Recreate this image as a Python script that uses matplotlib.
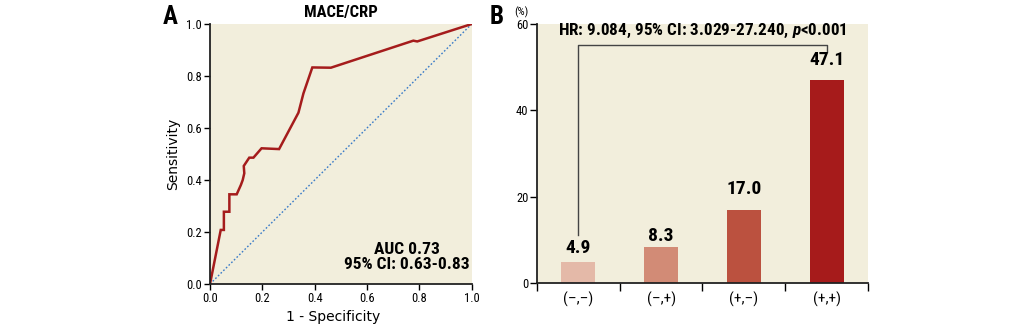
import matplotlib
matplotlib.use("Agg")
import matplotlib.pyplot as plt
from matplotlib import font_manager

# ---- data -------------------------------------------------------------
# ROC curve (panel A)
fpr = [0.0, 0.041, 0.053, 0.053, 0.074, 0.074, 0.102, 0.118, 0.125, 0.131,
       0.129, 0.150, 0.166, 0.197, 0.264, 0.338, 0.357, 0.391, 0.462, 0.777,
       0.792, 1.0]
tpr = [0.0, 0.208, 0.208, 0.278, 0.278, 0.345, 0.345, 0.381, 0.400, 0.426,
       0.454, 0.486, 0.486, 0.522, 0.519, 0.659, 0.733, 0.833, 0.832, 0.936,
       0.933, 1.0]
auc_text = "AUC 0.73\n95% CI: 0.63-0.83"

# event rates (panel B)
groups = ["(\u2013,\u2013)", "(\u2013,+)", "(+,\u2013)", "(+,+)"]
rates = [4.9, 8.3, 17.0, 47.1]
hr_text = "HR: 9.084, 95% CI: 3.029-27.240, $\\mathit{p}$<0.001"

# ---- style ------------------------------------------------------------
names = {f.name for f in font_manager.fontManager.ttflist}
narrow = "DejaVu Sans"
for cand in ["Roboto Condensed", "Archivo Narrow", "PT Sans Narrow",
             "Liberation Sans Narrow", "Open Sans Condensed"]:
    if cand in names:
        narrow = cand
        break
plt.rcParams["font.family"] = [narrow, "DejaVu Sans"]
plt.rcParams["mathtext.fontset"] = "custom"
plt.rcParams["mathtext.it"] = narrow + ":italic:bold"
plt.rcParams["mathtext.rm"] = narrow + ":bold"

bg = "#f2eedc"
bar_colors = ["#e4b9a8", "#d28b76", "#bb513f", "#a61b1b"]
roc_color = "#a51c1c"

fig = plt.figure(figsize=(10.33, 3.26), dpi=100)

# ---- panel A: ROC -----------------------------------------------------
ax = fig.add_axes([0.2033, 0.1288, 0.2533, 0.7975])
ax.set_facecolor(bg)
ax.plot([0, 1], [0, 1], color="#3a7bc8", lw=1.0, ls=(0, (1.2, 1.5)))
ax.plot(fpr, tpr, color=roc_color, lw=1.8, solid_joinstyle="miter")
ax.set_xlim(0, 1)
ax.set_ylim(0, 1)
ticks = [0.0, 0.2, 0.4, 0.6, 0.8, 1.0]
ax.set_xticks(ticks, [f"{t:.1f}" for t in ticks])
ax.set_yticks(ticks, [f"{t:.1f}" for t in ticks])
for s in ["top", "right"]:
    ax.spines[s].set_visible(False)
for s in ["left", "bottom"]:
    ax.spines[s].set_linewidth(1.3)
    ax.spines[s].set_color("#222222")
ax.tick_params(direction="out", length=4, width=1, labelsize=9, pad=2)
ax.set_xlabel("1 - Specificity", fontsize=10, family="DejaVu Sans", labelpad=3)
ax.xaxis.label.set_x(0.47)
ax.set_ylabel("Sensitivity", fontsize=10, family="DejaVu Sans", labelpad=4)
ax.set_title("MACE/CRP", fontsize=12, fontweight="bold", pad=5)
ax.text(0.752, 0.045, auc_text, ha="center", va="bottom", fontsize=12.5,
        fontweight="bold", linespacing=1.05)
fig.text(0.158, 0.925, "A", fontsize=18, fontweight="bold", ha="left")

# ---- panel B: bars ----------------------------------------------------
bx = fig.add_axes([0.5198, 0.1319, 0.3204, 0.7945])
bx.set_facecolor(bg)
xpos = [i + 0.5 for i in range(len(rates))]
bx.bar(xpos, rates, width=0.41, color=bar_colors)
label_gap = [1.2, 0.5, 2.6, 2.5]
for x, r, g in zip(xpos, rates, label_gap):
    bx.text(x, r + g, f"{r:.1f}", ha="center", va="bottom", fontsize=14,
            fontweight="bold")
bx.set_xlim(0, len(rates))
bx.set_ylim(0, 60)
bx.set_yticks([0, 20, 40, 60])
bx.set_xticks(range(len(rates) + 1), [""] * (len(rates) + 1))
bx.set_xticks(xpos, groups, minor=True)
bx.tick_params(axis="x", which="minor", length=0, labelsize=11, pad=6)
bx.tick_params(axis="x", which="major", direction="out", length=6, width=1)
bx.tick_params(axis="y", direction="out", length=5, width=1, labelsize=9, pad=1)
for s in ["top", "right"]:
    bx.spines[s].set_visible(False)
for s in ["left", "bottom"]:
    bx.spines[s].set_linewidth(1.3)
    bx.spines[s].set_color("#222222")

# HR bracket between first and last group
bx.plot([xpos[0], xpos[0], xpos[-1], xpos[-1]], [11.1, 55.1, 55.1, 53.5],
        color="#444444", lw=1.0)
bx.text((xpos[0] + xpos[-1]) / 2, 56.3, hr_text, ha="center", va="bottom",
        fontsize=12.3, fontweight="bold")
bx.text(-0.025, 1.025, "(%)", transform=bx.transAxes, ha="right", va="bottom",
        fontsize=8)
fig.text(0.474, 0.925, "B", fontsize=18, fontweight="bold", ha="left")

fig.savefig("out.png", dpi=100)
